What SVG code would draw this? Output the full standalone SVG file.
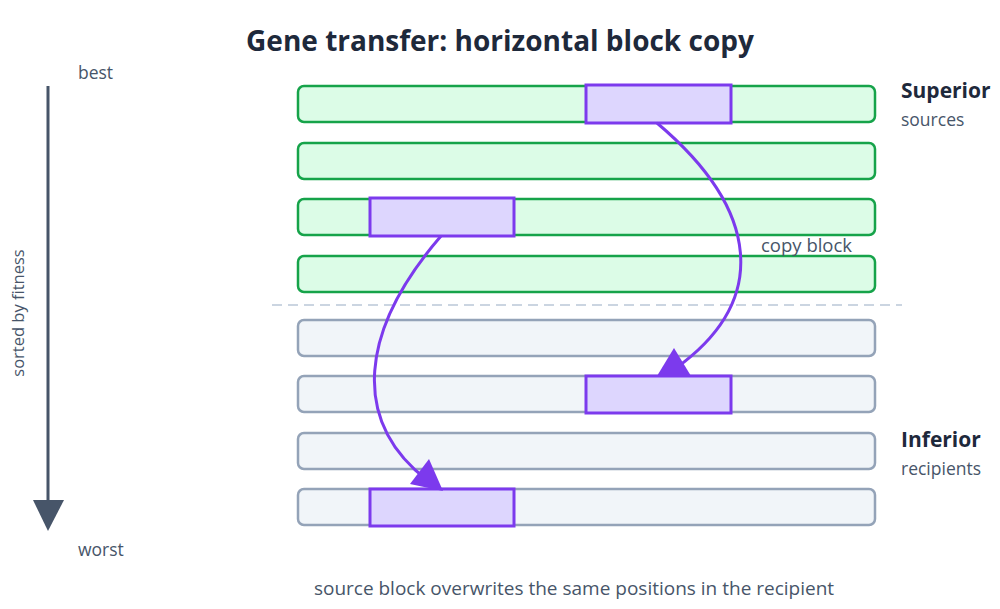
<svg xmlns="http://www.w3.org/2000/svg" width="1000" height="609" viewBox="0 0 1000 609">
<style>
text{font-family:"Open Sans","Noto Sans",sans-serif}
.title{font-size:28px;font-weight:700;fill:#1e293b}
.lbl{font-size:17.5px;fill:#475569}
.big{font-size:18.5px;fill:#475569}
.head{font-size:21px;font-weight:700;fill:#1e293b}
.sup{fill:#dcfce7;stroke:#16a34a;stroke-width:2.5}
.inf{fill:#f1f5f9;stroke:#94a3b8;stroke-width:2.5}
.blk{fill:#ddd6fe;stroke:#7c3aed;stroke-width:3}
.conn{fill:none;stroke:#7c3aed;stroke-width:3}
.head-ar{fill:#7c3aed}
</style>
<rect width="1000" height="609" fill="#ffffff"/>
<text class="title" x="500" y="51" text-anchor="middle">Gene transfer: horizontal block copy</text>
<g id="axis">
<line x1="48" y1="86" x2="48" y2="502" stroke="#475569" stroke-width="3"/>
<polygon points="33,500 64,500 48,531" fill="#475569"/>
<text class="lbl" x="78" y="79">best</text>
<text class="lbl" x="78" y="556">worst</text>
<text class="lbl" style="font-size:16.5px" transform="translate(24,313) rotate(-90)" text-anchor="middle">sorted by fitness</text>
</g>
<line id="divider" x1="272" y1="305" x2="902" y2="305" stroke="#cbd5e1" stroke-width="2" stroke-dasharray="10,6"/>
<g id="row1"><rect class="sup" x="298" y="86" width="577" height="36" rx="6"/><rect class="blk" x="586" y="85" width="145" height="38"/></g>
<g id="row2"><rect class="sup" x="298" y="143" width="577" height="36" rx="6"/></g>
<g id="row3"><rect class="sup" x="298" y="199" width="577" height="36" rx="6"/><rect class="blk" x="370" y="198" width="144" height="38"/></g>
<g id="row4"><rect class="sup" x="298" y="256" width="577" height="36" rx="6"/></g>
<g id="row5"><rect class="inf" x="298" y="320" width="577" height="36" rx="6"/></g>
<g id="row6"><rect class="inf" x="298" y="376" width="577" height="36" rx="6"/><rect class="blk" x="586" y="376" width="145" height="37"/></g>
<g id="row7"><rect class="inf" x="298" y="433" width="577" height="36" rx="6"/></g>
<g id="row8"><rect class="inf" x="298" y="489" width="577" height="36" rx="6"/><rect class="blk" x="370" y="489" width="144" height="37"/></g>
<g id="connectors">
<path class="conn" d="M657,123 C760,210 770,300 676,368"/>
<polygon class="head-ar" points="674,348 657,376 691,376"/>
<path class="conn" d="M441,236 C360,330 350,420 427,480"/>
<polygon class="head-ar" points="429,459 410,484 443,491"/>
<text class="big" x="761" y="252">copy block</text>
</g>
<g id="labels">
<text class="head" x="901" y="98">Superior</text>
<text class="lbl" x="901" y="126">sources</text>
<text class="head" x="901" y="447">Inferior</text>
<text class="lbl" x="901" y="475">recipients</text>
<text class="big" style="font-size:19px" x="574" y="595" text-anchor="middle">source block overwrites the same positions in the recipient</text>
</g>
</svg>
